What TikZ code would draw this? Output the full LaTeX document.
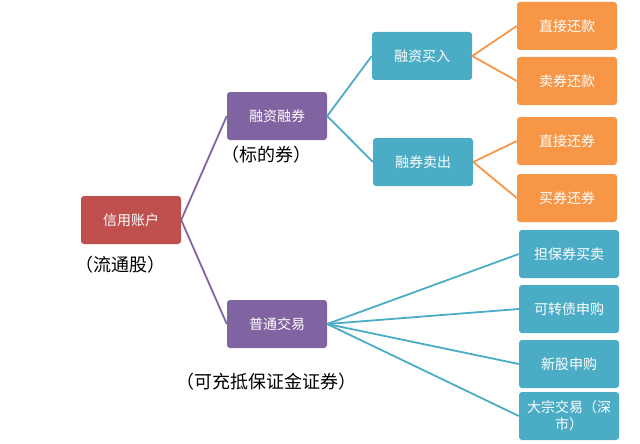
\documentclass[tikz,border=0pt]{standalone}
\usepackage{fontspec}
\newfontfamily\cjk{Noto Sans CJK SC}
\definecolor{cred}{HTML}{C0504D}
\definecolor{cpur}{HTML}{8064A2}
\definecolor{cteal}{HTML}{4BACC6}
\definecolor{corg}{HTML}{F79646}
\begin{document}
\begin{tikzpicture}[x=1pt,y=-1pt,
  box/.style={rounded corners=3pt,minimum width=100pt,minimum height=48pt,text=white,font=\cjk\fontsize{14}{15}\selectfont,align=center,inner sep=2pt},
  lab/.style={font=\cjk\fontsize{18}{20}\selectfont,text=black},
  con/.style={line width=1.8pt}]
\useasboundingbox (0,0) rectangle (640,444);
\node[box,fill=cred] (acc) at (131,220) {信用账户};
\node[lab] (l1) at (120,265) {（流通股）};
\node[box,fill=cpur] (rz) at (277,116) {融资融券};
\node[lab] (l2) at (266,155) {（标的券）};
\node[box,fill=cpur] (pt) at (277,324) {普通交易};
\node[lab] (l3) at (266,382) {（可充抵保证金证券）};
\node[box,fill=cteal] (mr) at (422,56) {融资买入};
\node[box,fill=cteal] (mc) at (423,162) {融券卖出};
\node[box,fill=corg] (o1) at (567,26) {直接还款};
\node[box,fill=corg] (o2) at (567,81) {卖券还款};
\node[box,fill=corg] (o3) at (567,141) {直接还券};
\node[box,fill=corg] (o4) at (567,198) {买券还券};
\node[box,fill=cteal] (t1) at (569,254) {担保券买卖};
\node[box,fill=cteal] (t2) at (569,309) {可转债申购};
\node[box,fill=cteal] (t3) at (569,364) {新股申购};
\node[box,fill=cteal,text width=92pt,font=\cjk\fontsize{14}{17}\selectfont] (t4) at (569,416) {大宗交易（深\\市）};
\draw[con,cpur] (acc.east) -- (rz.west);
\draw[con,cpur] (acc.east) -- (pt.west);
\draw[con,cteal] (rz.east) -- (mr.west);
\draw[con,cteal] (rz.east) -- (mc.west);
\draw[con,corg] (mr.east) -- (o1.west);
\draw[con,corg] (mr.east) -- (o2.west);
\draw[con,corg] (mc.east) -- (o3.west);
\draw[con,corg] (mc.east) -- (o4.west);
\foreach \t in {t1,t2,t3,t4} \draw[con,cteal] (pt.east) -- (\t.west);
\end{tikzpicture}
\end{document}
